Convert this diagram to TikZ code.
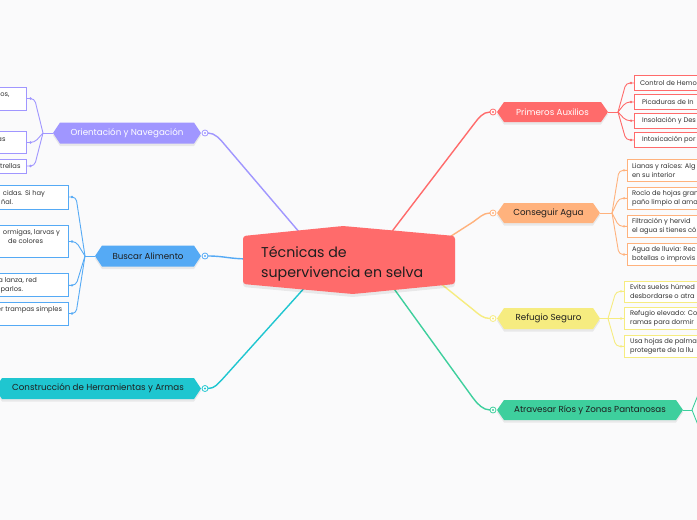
\documentclass[tikz,border=0pt]{standalone}
\usepackage{fontspec}
\setmainfont{Poppins}
\usetikzlibrary{calc}
\pgfdeclarelayer{edges}
\pgfsetlayers{edges,main}
\definecolor{cRed}{HTML}{FF6B6B}
\definecolor{cPur}{HTML}{A096FF}
\definecolor{cBlu}{HTML}{55AAF5}
\definecolor{cTeal}{HTML}{1FC6D0}
\definecolor{cOra}{HTML}{FFB27D}
\definecolor{cYel}{HTML}{F6EC80}
\definecolor{cGrn}{HTML}{3ECF9D}
\definecolor{bgc}{HTML}{FAFAFB}
\definecolor{ink}{HTML}{1E1E1E}
\definecolor{leafink}{HTML}{333333}
\newcommand\leaffont{\fontsize{6.7}{9}\selectfont}
\newcommand\branchfont{\fontsize{8.7}{10}\selectfont}
\newcommand\rootfont{\fontsize{14.2}{20}\selectfont}
\tikzset{
  mainlbl/.style={font=\branchfont, inner sep=0pt, outer sep=0pt},
  hub/.style={circle, draw=#1, fill=white, line width=0.8pt, minimum size=6pt, inner sep=0pt, outer sep=0pt},
  leafbox/.style={draw=#1, fill=white, line width=0.8pt, inner sep=0pt, outer sep=0pt},
  leaftxt/.style={font=\leaffont, text=leafink, inner sep=0pt, outer sep=0pt, align=left},
  conn/.style={line width=1.4pt, line cap=round},
  subconn/.style={line width=0.9pt, rounded corners=4pt},
}
% name, cx, cy, half width, half height, fill, text colour, text
\newcommand\mainnode[8]{%
  \fill[black,opacity=.07] (#2-#4,#3+2.5) -- (#2-#4+7,#3-#5+2.5) -- (#2+#4-7,#3-#5+2.5) -- (#2+#4,#3+2.5) -- (#2+#4-7,#3+#5+2.5) -- (#2-#4+7,#3+#5+2.5) -- cycle;
  \fill[#6] (#2-#4,#3) -- (#2-#4+7,#3-#5) -- (#2+#4-7,#3-#5) -- (#2+#4,#3) -- (#2+#4-7,#3+#5) -- (#2-#4+7,#3+#5) -- cycle;
  \node[mainlbl, text=#7, minimum width=2*#4, minimum height=2*#5] (#1) at (#2,#3) {#8};
}
\newcommand\mconn[6]{%
  \draw[conn,#1] (#2) .. controls ($(#2)+(#3)$) and ($(#2)+(#4)$) .. ($(#2)+(#5)$) -- (#6);}
\newcommand\lchild[3]{%
  \draw[subconn,#1] (#2) -- ($(#3.east)+(8,0)$) -- (#3.east);
  \fill[#1] ($(#3.east)+(4,0)$) circle (1.3);}
\newcommand\rchild[3]{%
  \draw[subconn,#1] (#2) -- ($(#3.west)+(-8,0)$) -- (#3.west);
  \fill[#1] ($(#3.west)+(-3,0)$) circle (1.3);}
\newcommand\hubdot[2]{\fill[#1] (#2) circle (1.1);}
\begin{document}
\begin{tikzpicture}[x=1pt,y=-1pt]
\useasboundingbox (0,0) rectangle (697,520);
\begin{pgfonlayer}{edges}
\fill[bgc] (0,0) rectangle (697,520);
\end{pgfonlayer}

% central node (anchor node; its shape is filled further down)
\node[minimum width=212, minimum height=58, inner sep=0pt, outer sep=0pt] (root) at (349,260) {};

% main branch nodes
\mainnode{nO}{127}{133}{74}{10.5}{cPur}{white}{Orientación y Navegación}
\mainnode{nB}{148}{256}{53}{10.5}{cBlu}{ink}{Buscar Alimento}
\mainnode{nC}{98}{388.5}{103}{10.5}{cTeal}{ink}{Construcción de Herramientas y Armas}
\mainnode{nP}{552.5}{112}{55.5}{10}{cRed}{white}{Primeros Auxilios}
\mainnode{nA}{548.5}{213}{51.5}{10}{cOra}{ink}{Conseguir Agua}
\mainnode{nR}{548.5}{318.5}{51.5}{10.5}{cYel}{ink}{Refugio Seguro}
\mainnode{nG}{590}{410}{93}{10}{cGrn}{ink}{Atravesar Ríos y Zonas Pantanosas}

% hubs
\node[hub=cPur] (hO) at (205,133) {};
\node[hub=cBlu] (hB) at (205,256) {};
\node[hub=cTeal] (hC) at (205,388.5) {};
\node[hub=cRed] (hP) at (493,112) {};
\node[hub=cOra] (hA) at (493,213) {};
\node[hub=cYel] (hR) at (493,318.5) {};
\node[hub=cGrn] (hG) at (493,410) {};
\hubdot{cPur}{hO}\hubdot{cBlu}{hB}\hubdot{cTeal}{hC}\hubdot{cRed}{hP}
\hubdot{cOra}{hA}\hubdot{cYel}{hR}\hubdot{cGrn}{hG}

% leaf boxes, left
\node[leafbox=cPur, anchor=east, minimum width=150, minimum height=23] (o1) at (26.5,98.5) {};
\node[leafbox=cPur, anchor=east, minimum width=150, minimum height=22] (o2) at (26.5,142.5) {};
\node[leafbox=cPur, anchor=east, minimum width=150, minimum height=14] (o3) at (26.5,166) {};
\node[leafbox=cBlu, anchor=east, minimum width=150, minimum height=24] (b1) at (68,197) {};
\node[leafbox=cBlu, anchor=east, minimum width=150, minimum height=31.5] (b2) at (68,241.5) {};
\node[leafbox=cBlu, anchor=east, minimum width=150, minimum height=23] (b3) at (68,285.3) {};
\node[leafbox=cBlu, anchor=east, minimum width=150, minimum height=23] (b4) at (68,313.5) {};
% leaf texts, left
\node[leaftxt, anchor=base east] (o1a) at (9.5,96.3) {os,};
\node[leaftxt, anchor=base east] (o2a) at (5.5,141.1) {as};
\node[leaftxt, anchor=base east] (o3a) at (20.5,168.5) {trellas};
\node[leaftxt, anchor=base east] (b1a) at (45,195.8) {cidas. Si hay};
\node[leaftxt, anchor=base east] (b1b) at (13,204.5) {ñal.};
\node[leaftxt, anchor=base east] (b2a) at (60,234.5) {ormigas, larvas y};
\node[leaftxt, anchor=base east] (b2b) at (43,243.5) {de colores};
\node[leaftxt, anchor=base east] (b3a) at (37,282.5) {a lanza, red};
\node[leaftxt, anchor=base east] (b3b) at (23,291.3) {parlos.};
\node[leaftxt, anchor=base east] (b4a) at (62,311.8) {er trampas simples};

% leaf boxes, right
\node[leafbox=cRed, anchor=west, minimum width=120, minimum height=14.5] (p1) at (634,83) {};
\node[leafbox=cRed, anchor=west, minimum width=120, minimum height=14.5] (p2) at (634,102) {};
\node[leafbox=cRed, anchor=west, minimum width=120, minimum height=14.5] (p3) at (634,120.7) {};
\node[leafbox=cRed, anchor=west, minimum width=120, minimum height=14.5] (p4) at (634,140) {};
\node[leafbox=cOra, anchor=west, minimum width=120, minimum height=22.5] (a1) at (627,170.4) {};
\node[leafbox=cOra, anchor=west, minimum width=120, minimum height=22] (a2) at (627,198.3) {};
\node[leafbox=cOra, anchor=west, minimum width=120, minimum height=22.7] (a3) at (627,226.4) {};
\node[leafbox=cOra, anchor=west, minimum width=120, minimum height=22.4] (a4) at (627,254.5) {};
\node[leafbox=cYel, anchor=west, minimum width=120, minimum height=21] (r1) at (624,291.4) {};
\node[leafbox=cYel, anchor=west, minimum width=120, minimum height=22] (r2) at (624,318.5) {};
\node[leafbox=cYel, anchor=west, minimum width=120, minimum height=22.7] (r3) at (624,346.4) {};
% leaf texts, right
\node[leaftxt, anchor=west] (p1t) at (640,83) {Control de Hemo};
\node[leaftxt, anchor=west] (p2t) at (642,102) {Picaduras de In};
\node[leaftxt, anchor=west] (p3t) at (642,120.7) {Insolación y Des};
\node[leaftxt, anchor=west] (p4t) at (642,140) {Intoxicación por};
\node[leaftxt, anchor=west] (a1t) at (632,170.4) {Lianas y raíces: Alg\\en su interior};
\node[leaftxt, anchor=west] (a2t) at (632,198.3) {Rocío de hojas gran\\paño limpio al ama};
\node[leaftxt, anchor=west] (a3t) at (632,226.4) {Filtración y hervid\\el agua si tienes có};
\node[leaftxt, anchor=west] (a4t) at (632,254.5) {Agua de lluvia: Rec\\botellas o improvis};
\node[leaftxt, anchor=west] (r1t) at (630,291.4) {Evita suelos húmed\\desbordarse o atra};
\node[leaftxt, anchor=west] (r2t) at (630,318.5) {Refugio elevado: Co\\ramas para dormir};
\node[leaftxt, anchor=west] (r3t) at (630,346.4) {Usa hojas de palma\\protegerte de la llu};

% connectors
\begin{pgfonlayer}{edges}
\mconn{cPur}{hO}{10,0}{15,6}{20,12}{$(root.north west)+(57,2)$}
\draw[conn,cBlu] (hB) .. controls ($(hB)+(20,0)$) and ($(root.west)+(-15,-1)$) .. ($(root.west)+(9,-1)$);
\mconn{cTeal}{hC}{10,0}{13,-5}{18,-10}{$(root.south west)+(64,-4)$}
\mconn{cRed}{hP}{-10,0}{-14.5,6}{-19,12}{$(root.north)+(41,3)$}
\mconn{cOra}{hA}{-10,0}{-14,5}{-20,9}{$(root.north east)+(-10,9)$}
\mconn{cYel}{hR}{-10,0}{-14,-4}{-20,-9}{$(root.south east)+(-15,-6)$}
\mconn{cGrn}{hG}{-10,0}{-15.5,-6}{-20,-12}{$(root.south)+(43,-3)$}

\draw[subconn,cPur] (nO.west) -- ++(-10,0) coordinate (bO);
\lchild{cPur}{bO}{o1}\lchild{cPur}{bO}{o2}\lchild{cPur}{bO}{o3}
\draw[subconn,cBlu] (nB.west) -- ++(-10,0) coordinate (bB);
\lchild{cBlu}{bB}{b1}\lchild{cBlu}{bB}{b2}\lchild{cBlu}{bB}{b3}\lchild{cBlu}{bB}{b4}
\draw[subconn,cRed] (nP.east) -- ++(10,0) coordinate (bP);
\rchild{cRed}{bP}{p1}\rchild{cRed}{bP}{p2}\rchild{cRed}{bP}{p3}\rchild{cRed}{bP}{p4}
\draw[subconn,cOra] (nA.east) -- ++(12,0) coordinate (bA);
\rchild{cOra}{bA}{a1}\rchild{cOra}{bA}{a2}\rchild{cOra}{bA}{a3}\rchild{cOra}{bA}{a4}
\draw[subconn,cYel] (nR.east) -- ++(8,0) coordinate (bR);
\rchild{cYel}{bR}{r1}\rchild{cYel}{bR}{r2}\rchild{cYel}{bR}{r3}
\draw[subconn,cGrn] (nG.east) -- ++(9,0) coordinate (bG);
\coordinate (g1) at (720,380);
\coordinate (g2) at (720,440);
\draw[subconn,cGrn] (bG) -- (704,380) -- (g1);
\draw[subconn,cGrn] (bG) -- (704,440) -- (g2);
\end{pgfonlayer}

% central shape over the connector ends
\fill[black,opacity=.07,rounded corners=3pt] (243,239) -- (343,229) -- (455,239) -- (455,287) -- (353,297) -- (243,287) -- cycle;
\fill[cRed,rounded corners=3pt] (243,236) -- (343,226) -- (455,236) -- (455,284) -- (353,294) -- (243,284) -- cycle;
\node[font=\rootfont, text=ink, align=left, anchor=west, inner sep=0pt] (roottxt) at (261,263.5) {Técnicas de\\supervivencia en selva};
\end{tikzpicture}
\end{document}
